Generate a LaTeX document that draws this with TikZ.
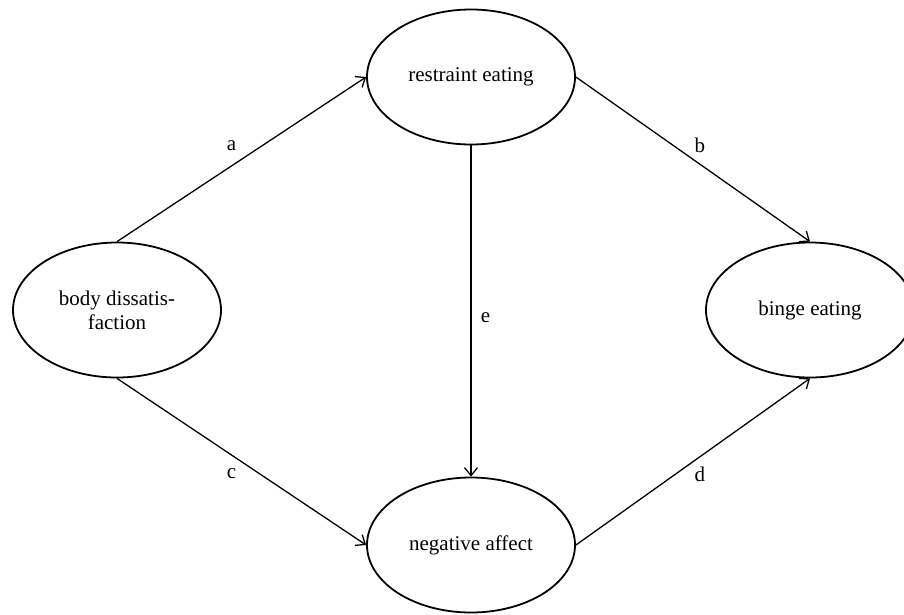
\documentclass[tikz,border=0pt]{standalone}
\usepackage{fontspec}
\setmainfont{Liberation Serif}
\usetikzlibrary{shapes.geometric,arrows.meta}

\begin{document}
\begin{tikzpicture}[x=1pt,y=-1pt,
    var/.style={ellipse,draw=black,line width=1.8pt,minimum width=208pt,minimum height=135pt,
        inner sep=0pt,align=center,font=\fontsize{21}{24}\selectfont},
    effect/.style={line width=1.3pt,-{Straight Barb[length=8pt,width=13pt]}},
    lbl/.style={font=\fontsize{21}{24}\selectfont}]
    \useasboundingbox (0,0) rectangle (904,614);
    \node (body)      at (117,310) [var] {body dissatis-\\faction};
    \node (restraint) at (471,77)  [var] {restraint eating};
    \node (negative)  at (471,545) [var] {negative affect};
    \node (binge)     at (810,310) [var] {binge eating};
    \draw[effect] (body.north) -- node[lbl,pos=.46,above=11pt] {a} (restraint.west);
    \draw[effect] (restraint.east) -- node[lbl,pos=.53,above=7.5pt] {b} (binge.north);
    \draw[effect] (body.south) -- node[lbl,pos=.46,below=10pt] {c} (negative.west);
    \draw[effect] (negative.east) -- node[lbl,pos=.53,below=6pt] {d} (binge.south);
    \draw[effect] (restraint.south) -- node[lbl,pos=.52,right=6pt] {e} (negative.north);
\end{tikzpicture}
\end{document}
